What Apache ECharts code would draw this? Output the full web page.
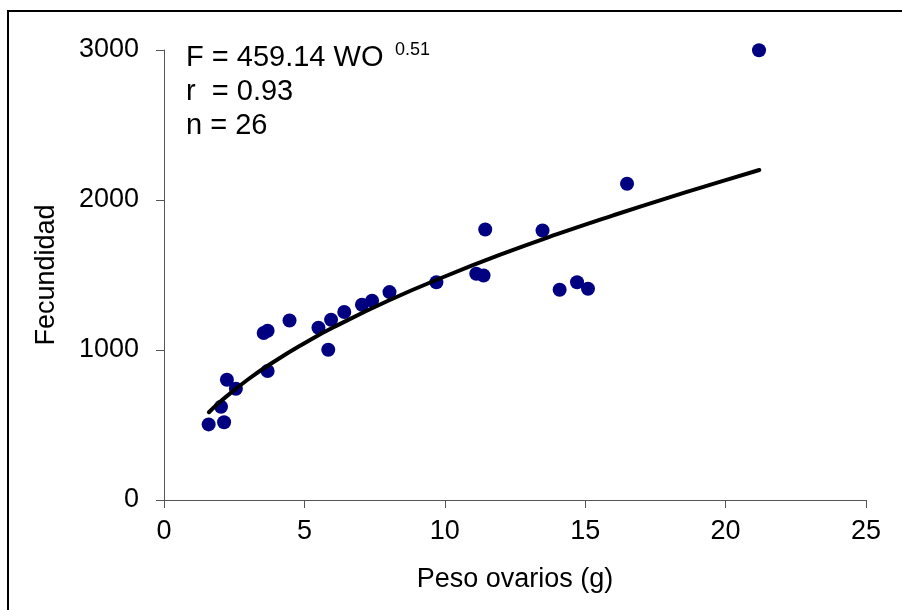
<!DOCTYPE html>
<html>
<head>
<meta charset="utf-8">
<script src="https://cdn.jsdelivr.net/npm/echarts@6/dist/echarts.min.js"></script>
<style>
  html, body { margin: 0; padding: 0; background: #fff; }
  #chart { width: 902px; height: 610px; }
</style>
</head>
<body>
<div id="chart"></div>
<script>
const pesoOvarios = [1.59, 2.03, 2.14, 2.24, 2.56, 3.55, 3.69, 3.69, 4.47, 5.50, 5.85, 5.95, 6.42, 7.05, 7.41, 8.03, 9.70, 11.12, 11.38, 11.44, 13.48, 14.09, 14.71, 15.10, 16.49, 21.19];
const fecundidad  = [504, 622, 518, 802, 742, 1113, 1128, 860, 1197, 1148, 1002, 1202, 1253, 1302, 1328, 1386, 1452, 1508, 1497, 1803, 1797, 1402, 1452, 1408, 2108, 2998];

// Trend curve points
const trendX = [1.6, 2, 3, 4, 5, 6, 8, 10, 12, 14, 16, 18, 20, 21.2];
const trendY = [585, 655, 805, 932, 1045, 1148, 1330, 1490, 1637, 1772, 1898, 2018, 2132, 2200];

// Axis ticks
const xTicks = [0, 5, 10, 15, 20, 25];
const yTicks = [0, 1000, 2000, 3000];

const eqLines = ['F = 459.14 WO', 'r  = 0.93', 'n = 26'];
const eqExponent = '0.51';

const FONT = "'Liberation Sans', Arial, sans-serif";
const AXIS_COLOR = '#555555';

const chart = echarts.init(document.getElementById('chart'), null, { renderer: 'canvas' });

const scatterData = pesoOvarios.map((x, i) => [x, fecundidad[i]]);
const trendData = trendX.map((x, i) => [x, trendY[i]]);

chart.setOption({
  animation: false,
  backgroundColor: '#ffffff',
  grid: { left: 164, right: 36, top: 50, bottom: 110, containLabel: false },
  xAxis: {
    type: 'value',
    min: xTicks[0],
    max: xTicks[xTicks.length - 1],
    interval: 5,
    name: 'Peso ovarios (g)',
    nameLocation: 'middle',
    nameGap: 66,
    nameTextStyle: { fontFamily: FONT, fontSize: 27, color: '#000' },
    axisLine: { show: true, onZero: false, lineStyle: { color: AXIS_COLOR, width: 1 } },
    axisTick: { show: true, inside: false, length: 8, lineStyle: { color: AXIS_COLOR, width: 1 } },
    axisLabel: { margin: 18, fontFamily: FONT, fontSize: 27, color: '#000', formatter: v => String(v) },
    splitLine: { show: false }
  },
  yAxis: {
    type: 'value',
    min: yTicks[0],
    max: yTicks[yTicks.length - 1],
    interval: 1000,
    name: 'Fecundidad',
    nameLocation: 'middle',
    nameGap: 104,
    nameTextStyle: { fontFamily: FONT, fontSize: 27, color: '#000' },
    axisLine: { show: true, lineStyle: { color: AXIS_COLOR, width: 1 } },
    axisTick: { show: true, inside: false, length: 8, lineStyle: { color: AXIS_COLOR, width: 1 } },
    axisLabel: { margin: 25, fontFamily: FONT, fontSize: 27, color: '#000', formatter: v => String(v) },
    splitLine: { show: false }
  },
  series: [
    {
      type: 'scatter',
      data: scatterData,
      symbol: 'circle',
      symbolSize: 14,
      itemStyle: { color: '#000080', opacity: 1 },
      z: 2
    },
    {
      type: 'line',
      data: trendData,
      smooth: true,
      showSymbol: false,
      symbol: 'none',
      lineStyle: { color: '#000', width: 4, cap: 'round' },
      z: 3
    }
  ],
  graphic: [
    {
      type: 'rect',
      shape: { x: 8, y: 11, width: 1000, height: 1000 },
      style: { fill: 'none', stroke: '#000', lineWidth: 2 },
      silent: true
    },
    {
      type: 'text', left: 186, top: 43,
      style: { text: eqLines[0], font: '29px ' + FONT, fill: '#000' }
    },
    {
      type: 'text', left: 395, top: 41,
      style: { text: eqExponent, font: '18px ' + FONT, fill: '#000' }
    },
    {
      type: 'text', left: 186, top: 77,
      style: { text: eqLines[1], font: '29px ' + FONT, fill: '#000' }
    },
    {
      type: 'text', left: 186, top: 111,
      style: { text: eqLines[2], font: '29px ' + FONT, fill: '#000' }
    }
  ]
});
</script>
</body>
</html>
